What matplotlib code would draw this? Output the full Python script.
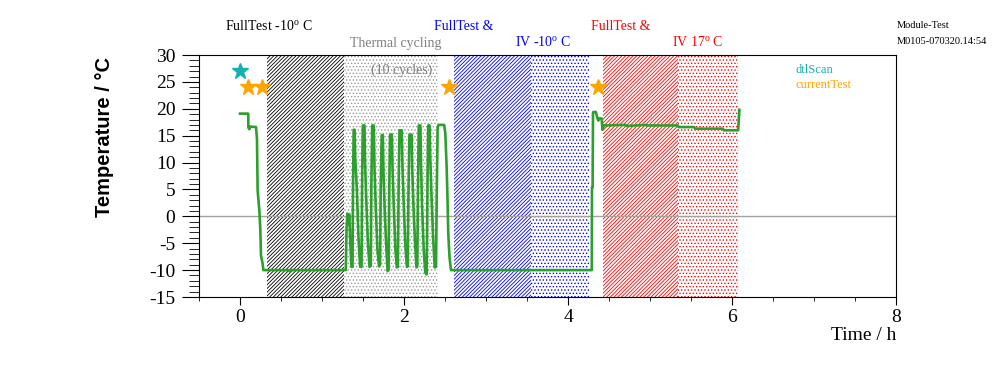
import matplotlib
matplotlib.use('Agg')
import matplotlib.pyplot as plt
from matplotlib.ticker import MultipleLocator

plt.rcParams['font.family'] = 'Liberation Serif'
plt.rcParams['mathtext.fontset'] = 'custom'
plt.rcParams['mathtext.rm'] = 'Liberation Serif'
plt.rcParams['axes.unicode_minus'] = False
plt.rcParams['hatch.linewidth'] = 0.6

# temperature trace (hours, deg C)
time_h = [
    0.0, 0.10, 0.102, 0.115, 0.125, 0.195, 0.207, 0.215, 0.236, 0.248, 0.256, 0.276, 0.284,
    0.60, 0.61, 0.62, 1.29,
    1.30, 1.31, 1.32, 1.333, 1.345, 1.36, 1.372, 1.378, 1.386, 1.398, 1.405, 1.425, 1.445, 1.465, 1.482,
    1.49, 1.498, 1.518, 1.525, 1.54, 1.56, 1.58, 1.595,
    1.602, 1.612, 1.632, 1.64, 1.655, 1.675, 1.695, 1.708,
    1.716, 1.728, 1.742, 1.75, 1.765, 1.785, 1.80, 1.812,
    1.82, 1.83, 1.852, 1.86, 1.875, 1.895, 1.912, 1.925,
    1.935, 1.945, 1.972, 1.98, 1.995, 2.015, 2.035, 2.045,
    2.055, 2.066, 2.093, 2.10, 2.115, 2.135, 2.152, 2.162,
    2.172, 2.18, 2.20, 2.207, 2.22, 2.24, 2.26, 2.277,
    2.287, 2.295, 2.313, 2.32, 2.335, 2.355, 2.375, 2.39,
    2.40, 2.41, 2.42, 2.49, 2.504, 2.52, 2.53, 2.54, 2.555, 2.573,
    4.29, 4.292, 4.30, 4.305, 4.31, 4.34, 4.36, 4.37, 4.38, 4.41, 4.42, 4.44,
    4.70, 4.71, 4.95, 4.96, 5.34, 5.35, 5.54, 5.55, 5.89, 5.90, 6.075, 6.08, 6.085, 6.09,
]
temp_c = [
    19.1, 19.1, 16.5, 16.2, 16.7, 16.6, 14.4, 4.8, 1.1, -2.6, -7.3, -8.8, -10.0,
    -10.0, -10.3, -10.0, -10.0,
    -2.0, 0.5, -1.5, 0.3, -5.0, -9.4, -9.4, 5.0, 16.1, 16.1, 11.0, 5.0, -4.0, -9.4, -9.4,
    8.0, 16.9, 16.9, 10.0, 3.0, -5.0, -9.4, -9.2,
    6.0, 16.9, 16.9, 9.0, 2.0, -6.0, -9.3, -9.0,
    5.0, 15.1, 15.1, 8.0, 1.0, -6.0, -10.2, -10.0,
    5.0, 15.2, 15.2, 9.0, 2.0, -6.0, -9.5, -9.4,
    6.0, 16.0, 16.0, 10.0, 3.0, -5.0, -9.4, -9.3,
    5.0, 15.2, 15.2, 9.0, 2.0, -5.0, -9.5, -9.3,
    7.0, 16.9, 16.9, 10.0, 2.0, -6.0, -10.5, -10.8,
    7.0, 16.9, 16.9, 11.0, 4.0, -4.0, -9.5, -9.4,
    5.0, 16.5, 17.0, 17.0, 15.4, 9.2, 3.6, -3.2, -7.6, -10.0,
    -10.0, 5.4, 5.4, 19.3, 19.4, 19.4, 18.2, 17.8, 18.2, 18.2, 16.1, 16.9,
    17.0, 16.8, 17.0, 16.9, 16.9, 16.6, 16.6, 16.3, 16.3, 16.0, 16.0, 17.2, 18.5, 19.8,
]

# test periods
span_start = [0.33, 1.27, 2.61, 3.55, 4.43, 5.34]
span_end = [1.27, 2.41, 3.55, 4.26, 5.34, 6.07]
span_color = ['black', '#999999', 'blue', 'blue', 'red', 'red']
span_hatch = ['/' * 9, '.' * 5, '/' * 9, '.' * 5, '/' * 9, '.' * 5]

dtl_t = [0.0]
dtl_y = [27.0]
cur_t = [0.10, 0.27, 2.55, 4.37]
cur_y = [24.0, 24.0, 24.0, 24.0]

fig = plt.figure(figsize=(9.96, 3.72), dpi=100)
ax = fig.add_axes([199 / 996, 1 - 297 / 372, 697 / 996, 242 / 372])

for s, e, c, h in zip(span_start, span_end, span_color, span_hatch):
    ax.axvspan(s, e, facecolor='none', edgecolor=c, hatch=h, linewidth=0)

ax.axhline(0, color='#a8a29c', linewidth=1.0)
ax.plot(time_h, temp_c, color='#2ca02c', linewidth=1.9)
ax.plot(dtl_t, dtl_y, linestyle='none', marker='*', markersize=12, color='#17b0b0')
ax.plot(cur_t, cur_y, linestyle='none', marker='*', markersize=12, color='#ffa500')

ax.set_xlim(-0.5, 8)
ax.set_ylim(-15, 30)
ax.xaxis.set_major_locator(MultipleLocator(2))
ax.xaxis.set_minor_locator(MultipleLocator(0.5))
ax.yaxis.set_major_locator(MultipleLocator(5))
ax.yaxis.set_minor_locator(MultipleLocator(1))
ax.tick_params(axis='x', which='major', direction='out', length=6, labelsize=14, pad=3)
ax.tick_params(axis='x', which='minor', direction='out', length=3)
ax.tick_params(axis='y', which='major', direction='out', length=12, labelsize=14, pad=5)
ax.tick_params(axis='y', which='minor', direction='out', length=7)

ax.text(1.0, -0.16, 'Time / h', transform=ax.transAxes, ha='right', va='center', fontsize=14)
ax.text(-0.135, 0.99, 'Temperature / \u00b0C', transform=ax.transAxes, rotation=90,
        ha='center', va='top', fontsize=14.5, fontweight='bold', family='Liberation Sans')


def ftext(x, y, s, **kw):
    fig.text(x / 996, 1 - y / 372, s, ha='left', va='center', **kw)


deg = '$^{\\mathrm{o}}$'
ftext(225, 27, 'FullTest -10' + deg + ' C', fontsize=10, color='black')
ftext(350, 43, 'Thermal cycling', fontsize=10, color='#808080')
ftext(371, 70, '(10 cycles)', fontsize=10, color='#808080')
ftext(434, 27, 'FullTest &', fontsize=10, color='blue')
ftext(515, 43, 'IV -10' + deg + ' C', fontsize=10, color='blue')
ftext(591, 27, 'FullTest &', fontsize=10, color='red')
ftext(672, 43, 'IV 17' + deg + ' C', fontsize=10, color='red')
ftext(897, 25, 'Module-Test', fontsize=7.5, color='black')
ftext(897, 42, 'M0105-070320.14:54', fontsize=7.5, color='black')
ftext(796, 70, 'dtlScan', fontsize=9, color='#17b0b0')
ftext(796, 85, 'currentTest', fontsize=9, color='#ffa500')

fig.savefig('out.png', dpi=100)
